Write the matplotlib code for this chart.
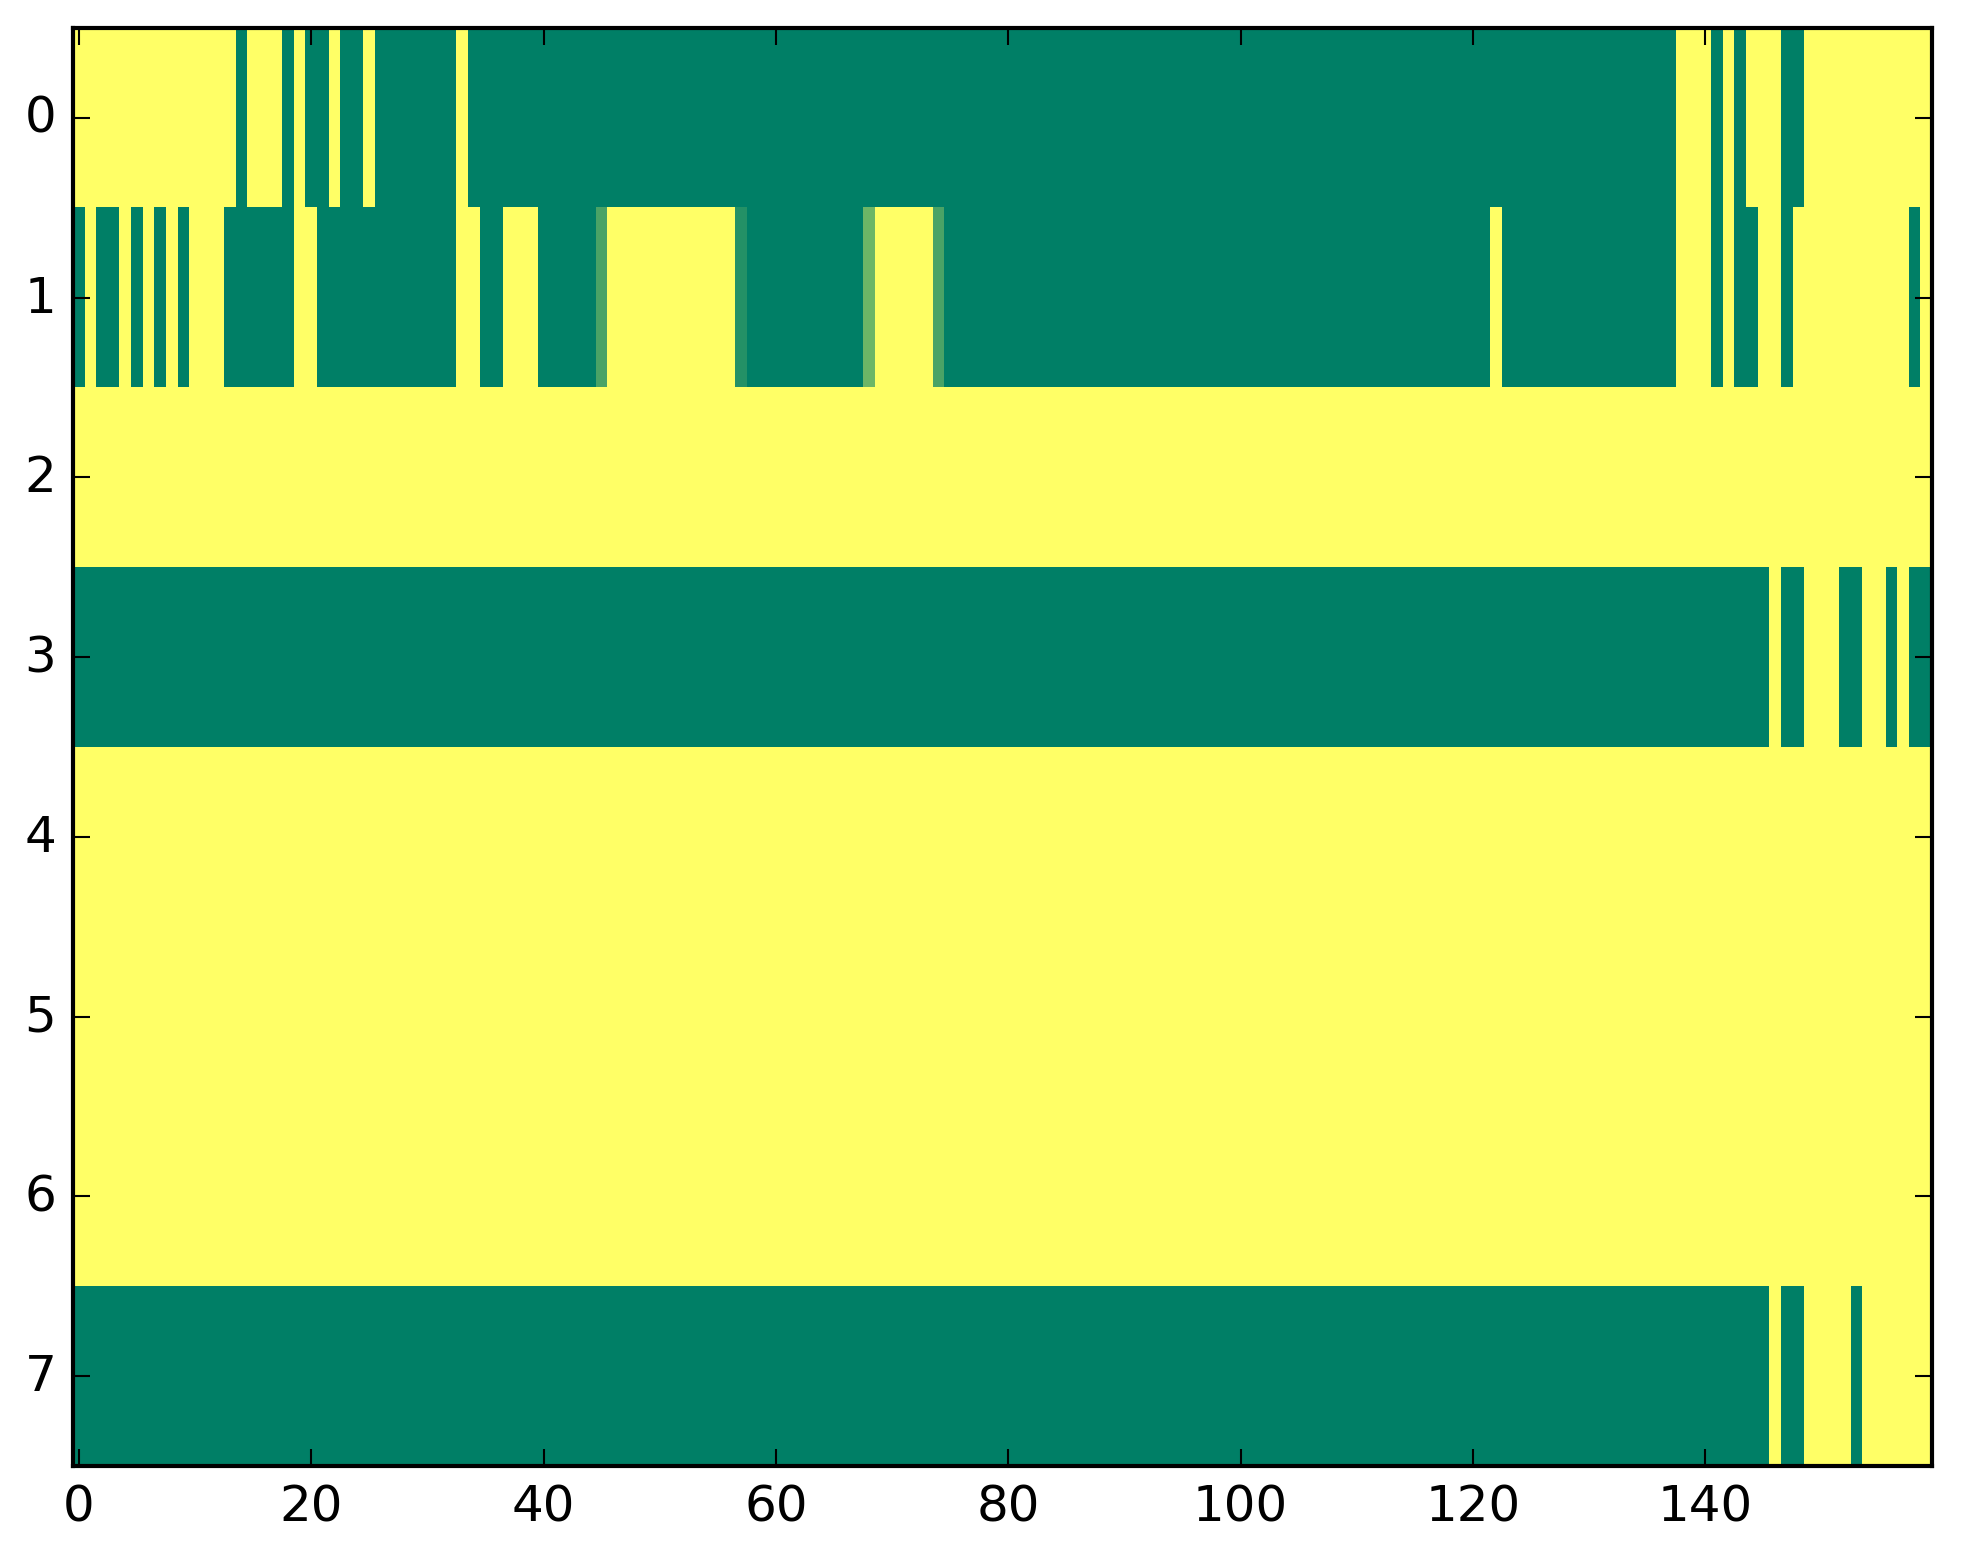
import numpy as np
import matplotlib
matplotlib.use('Agg')
import matplotlib.pyplot as plt

# Each row as (value, run length) pairs; 1 = yellow, 0 = green
row0 = [(1, 14), (0, 1), (1, 3), (0, 1), (1, 1), (0, 2), (1, 1), (0, 2), (1, 1),
        (0, 7), (1, 1), (0, 104), (1, 3), (0, 1), (1, 1), (0, 1), (1, 3), (0, 2), (1, 11)]
row1 = [(0, 1), (1, 1), (0, 2), (1, 1), (0, 1), (1, 1), (0, 1), (1, 1), (0, 1), (1, 3),
        (0, 6), (1, 2), (0, 12), (1, 2), (0, 2), (1, 3), (0, 5), (0.286, 1), (1, 11),
        (0.143, 1), (0, 10), (0.429, 1), (1, 5), (0.286, 1), (0, 47), (1, 1), (0, 15),
        (1, 3), (0, 1), (1, 1), (0, 2), (1, 2), (0, 1), (1, 10), (0, 1), (1, 1)]
row2 = [(1, 160)]
row3 = [(0, 146), (1, 1), (0, 2), (1, 3), (0, 2), (1, 2), (0, 1), (1, 1), (0, 2)]
row4 = [(1, 160)]
row5 = [(1, 160)]
row6 = [(1, 160)]
row7 = [(0, 146), (1, 1), (0, 2), (1, 4), (0, 1), (1, 6)]

rows = [row0, row1, row2, row3, row4, row5, row6, row7]


def expand(runs):
    vals = []
    for v, n in runs:
        vals += [v] * n
    return vals


data = np.array([expand(r) for r in rows])

plt.style.use('classic')
fig = plt.figure(figsize=(1963 / 300, 1564 / 300))
ax = fig.add_axes([73 / 1963, 97 / 1564, 1859 / 1963, 1438 / 1564])
ax.imshow(data, aspect='auto', interpolation='nearest', cmap='summer', vmin=0, vmax=1)
fig.savefig('out.png', dpi=300)
